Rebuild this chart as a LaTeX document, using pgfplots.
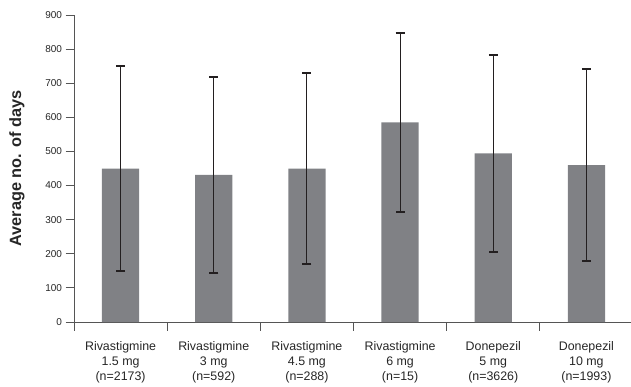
\documentclass[border=0pt]{standalone}
\usepackage{pgfplots}
\pgfplotsset{compat=1.18}
\usepackage{fontspec}
\setmainfont{Liberation Sans}
\definecolor{bargray}{RGB}{128,129,133}
\definecolor{errc}{RGB}{35,31,32}
\definecolor{axc}{RGB}{85,85,85}
\begin{document}
\begin{tikzpicture}[x=1pt,y=1pt]
\useasboundingbox (0,0) rectangle (631,386);
\begin{axis}[
  at={(74pt,64pt)}, anchor=south west,
  scale only axis, width=559pt, height=307pt,
  xmin=-0.5, xmax=5.5, ymin=0, ymax=900,
  axis x line*=bottom, axis y line*=left,
  axis line style={draw=axc, line width=0.8pt},
  tick align=outside, major tick length=8.5pt,
  tick style={draw=axc, line width=0.8pt},
  xtick={-0.5,0.5,1.5,2.5,3.5,4.5},
  xticklabels={},
  extra x ticks={0,1,2,3,4,5},
  extra x tick labels={Rivastigmine\\1.5 mg\\(n=2173),Rivastigmine\\3 mg\\(n=592),Rivastigmine\\4.5 mg\\(n=288),Rivastigmine\\6 mg\\(n=15),Donepezil\\5 mg\\(n=3626),Donepezil\\10 mg\\(n=1993)},
  extra x tick style={major tick length=0pt},
  xticklabel style={align=center, font=\fontsize{12.4}{15}\selectfont, text=black!85, yshift=-16pt},
  ytick={0,100,...,900},
  yticklabel style={font=\fontsize{10}{12}\selectfont, text=black!85},
  /pgf/number format/assume math mode=true,
  ylabel={Average no. of days},
  ylabel style={at={(axis description cs:-0.102,0.5)}, anchor=center, font=\bfseries\fontsize{16.3}{18}\selectfont, text=black!85},
  clip=false,
]
\addplot[ybar, bar width=0.4, fill=bargray, draw=none,
  error bars/.cd, y dir=both, y explicit,
  error bar style={draw=errc, line width=1pt},
  error mark=|,
  error mark options={draw=errc, line width=2pt, mark size=4.5pt}]
  coordinates {
  (0,450) +- (0,301)
  (1,431) +- (0,287)
  (2,450) +- (0,279)
  (3,585) +- (0,262)
  (4,494) +- (0,289)
  (5,460) +- (0,282)
  };
\end{axis}
\end{tikzpicture}
\end{document}
